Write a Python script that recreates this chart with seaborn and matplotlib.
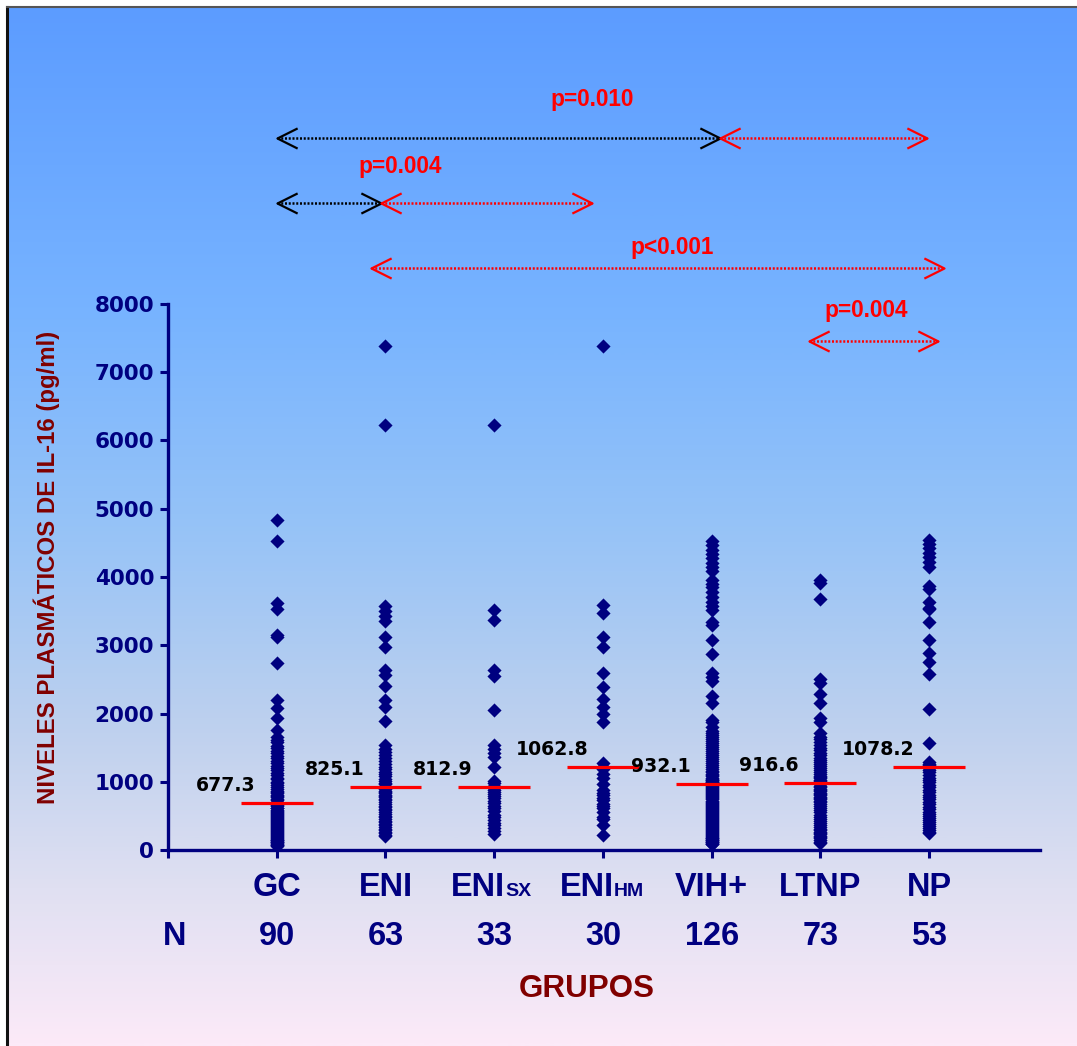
import numpy as np
import pandas as pd
import matplotlib
matplotlib.use("Agg")
import matplotlib.pyplot as plt
import seaborn as sns
from matplotlib.path import Path
from matplotlib.colors import LinearSegmentedColormap
from matplotlib.transforms import blended_transform_factory
from matplotlib import font_manager

# ---------------- data ----------------
groups = ["GC", "ENI", "ENIsx", "ENIhm", "VIH+", "LTNP", "NP"]
n_counts = ["90", "63", "33", "30", "126", "73", "53"]

gc = [4830, 4530, 3620, 3530, 3150, 3120, 2740, 2200, 2080, 1930, 1760,
      1650, 1610, 1580, 1530, 1500, 1450, 1420, 1380, 1350, 1300, 1280, 1230,
      1200, 1170, 1130, 1100, 1060, 1040, 1000, 980, 950, 920, 900, 870, 850,
      830, 810, 790, 770, 750, 730, 710, 695, 685,
      670, 660, 640, 620, 610, 590, 575, 560, 545, 530, 515, 500, 480, 470,
      455, 440, 425, 410, 395, 380, 365, 350, 335, 320, 305, 290, 280, 265,
      250, 235, 220, 205, 190, 180, 165, 150, 140, 130, 120, 110, 100, 90,
      80, 70, 60]
eni = [7390, 6220, 3570, 3500, 3430, 3360, 3120, 2980, 2640, 2560, 2400,
       2200, 2100, 1890,
       1540, 1480, 1430, 1390, 1350, 1300, 1260, 1220, 1190, 1150, 1110, 1080,
       1040, 1010, 980, 960, 930, 910,
       890, 870, 850, 830, 810, 790, 770, 750, 730, 700, 680, 650, 630, 600,
       580, 550, 530, 500, 480, 450, 430, 410, 380, 360, 340, 310, 290, 270,
       250, 220, 200]
eni_sx = [6220, 3520, 3370, 2640, 2550, 2050, 1540, 1480, 1420, 1360, 1220,
          1010, 980, 940, 910, 880, 850, 820, 790, 760, 720, 690, 650, 610,
          570, 520, 480, 440, 400, 360, 320, 280, 230]
eni_hm = [7390, 3590, 3470, 3120, 2970, 2590, 2390, 2210, 2100, 1990, 1880,
          1270, 1220, 1180, 1120, 1060, 960, 880, 840, 800, 760, 730, 680,
          640, 610, 560, 490, 450, 360, 220]
vih = [4530, 4470, 4400, 4340, 4280, 4210, 4150, 4090, 3960, 3900, 3850,
       3780, 3700, 3640, 3580, 3510, 3340, 3290, 3080, 2870, 2590, 2540, 2470,
       2250, 2150, 1900, 1870, 1800, 1750, 1720,
       1690, 1660, 1630, 1600, 1570, 1540, 1510, 1480, 1450, 1420, 1390, 1360,
       1330, 1300, 1270, 1240, 1210, 1190, 1160, 1140, 1120, 1100, 1080, 1060,
       1040, 1030, 1020, 1010, 1000, 990, 980, 970, 960,
       950, 935, 920, 905, 890, 875, 860, 845, 830, 815, 800, 785, 770, 755,
       740, 725, 710, 695, 680, 665, 650, 635, 620, 605, 590, 575, 560, 545,
       530, 515, 500, 485, 470, 455, 440, 425, 410, 395, 380, 365, 350, 335,
       320, 305, 290, 275, 260, 245, 230, 215, 200, 190, 180, 170, 160, 150,
       140, 130, 120, 110, 100, 95, 90]
ltnp = [3950, 3910, 3680, 2500, 2450, 2290, 2150, 1930, 1880, 1720,
        1660, 1620, 1580, 1540, 1500, 1460, 1420, 1390, 1350, 1320, 1290, 1260,
        1230, 1200, 1170, 1140, 1110, 1090, 1070, 1050, 1030, 1010, 1000, 990,
        985, 980,
        960, 940, 920, 900, 880, 860, 840, 820, 800, 780, 760, 740, 720, 700,
        670, 640, 610, 580, 550, 520, 490, 460, 430, 400, 370, 340, 310, 290,
        270, 250, 230, 210, 190, 170, 150, 120, 100]
np_grp = [4540, 4480, 4420, 4350, 4290, 4220, 4150, 3870, 3820, 3640, 3550,
          3530, 3340, 3080, 2880, 2760, 2580, 2070, 1570,
          1290, 1260, 1240, 1220, 1200, 1170, 1140, 1100, 1060, 1020, 990, 950,
          920, 880, 850, 810, 780, 740, 700, 670, 630, 600, 560, 530, 500, 470,
          440, 410, 380, 350, 320, 300, 270, 250]

median_lines = [690, 925, 923, 1216, 967, 982, 1216]
median_labels = ["677.3", "825.1", "812.9", "1062.8", "932.1", "916.6", "1078.2"]

# comparison arrows
arrow_x0 = [0.0, 4.08, 0.0, 0.96, 0.87, 4.90]
arrow_x1 = [4.08, 5.98, 0.96, 2.90, 6.14, 6.08]
arrow_y = [10430, 10430, 9480, 9480, 8530, 7460]
arrow_col = ["black", "red", "black", "red", "red", "red"]
p_texts = ["p=0.010", "p=0.004", "p<0.001", "p=0.004"]
p_x = [2.90, 1.14, 3.64, 5.42]
p_y = [10990, 10010, 8830, 7900]

series = [gc, eni, eni_sx, eni_hm, vih, ltnp, np_grp]
df = pd.DataFrame({
    "grupo": np.repeat(groups, [len(s) for s in series]),
    "valor": np.concatenate([np.asarray(s, float) for s in series]),
})

# ---------------- fonts ----------------
names = {f.name for f in font_manager.fontManager.ttflist}
if "Liberation Sans Narrow" in names:
    NARROW, narrow_scale = "Liberation Sans Narrow", 1.0
else:
    NARROW, narrow_scale = "Liberation Sans", 0.88
ARIAL = "Liberation Sans"
NAVY = "#000080"
DARKRED = "#800000"

# ---------------- figure ----------------
W, H = 1077, 1046
fig = plt.figure(figsize=(W / 100, H / 100), dpi=100)
fig.patch.set_facecolor("white")

bg = fig.add_axes([7 / W, 0, 1 - 7 / W, 1 - 7 / H], zorder=0)
cmap = LinearSegmentedColormap.from_list(
    "bg", [(0.0, "#5C9CFF"), (0.3, "#78B4FF"), (0.5, "#96C3F7"),
           (0.7, "#BFD1EE"), (0.85, "#E0E0F2"), (1.0, "#FCEAF8")])
grad = np.linspace(0, 1, 512).reshape(-1, 1)
bg.imshow(grad, aspect="auto", cmap=cmap, extent=[0, 1, 0, 1], origin="upper")
bg.set_xticks([]); bg.set_yticks([])
for s in ["right", "bottom"]:
    bg.spines[s].set_visible(False)
bg.spines["left"].set_linewidth(2.2)
bg.spines["top"].set_linewidth(1.5)
bg.spines["left"].set_color("#111111")
bg.spines["top"].set_color("#555555")

ax = fig.add_axes([168 / W, 1 - 850 / H, (1040 - 168) / W, (850 - 304) / H], zorder=2)
ax.patch.set_alpha(0)

sns.stripplot(data=df, x="grupo", y="valor", order=groups, jitter=False,
              marker="D", size=7.2, color=NAVY, linewidth=0, ax=ax, zorder=3)
for c in ax.collections:
    c.set_clip_on(False)

ax.set_xlim(-1, 7.02)
ax.set_ylim(0, 8000)
ax.set_xlabel("")
ax.set_ylabel("")
for s in ["top", "right"]:
    ax.spines[s].set_visible(False)
for s in ["left", "bottom"]:
    ax.spines[s].set_color(NAVY)
    ax.spines[s].set_linewidth(2.4)
ax.set_yticks(range(0, 8001, 1000))
ax.set_xticks(range(-1, 7))
ax.set_xticklabels([""] * 8)
ax.tick_params(axis="both", direction="out", length=6, width=2.2, colors=NAVY)
ax.tick_params(axis="y", pad=4)
for lab in ax.get_yticklabels():
    lab.set_fontfamily("DejaVu Sans")
    lab.set_fontweight("bold")
    lab.set_fontsize(15.5)
    lab.set_color(NAVY)

# median lines + labels
for i, (m, lab) in enumerate(zip(median_lines, median_labels)):
    ax.hlines(m, i - 0.33, i + 0.33, color="red", lw=2.3, zorder=4)
    ax.text(i - 0.47, m + 250, lab, ha="center", va="center",
            fontfamily="DejaVu Sans", fontweight="bold", fontsize=13.6,
            color="black", zorder=5)

# comparison arrows
left_head = Path([(2, 1), (0, 0), (2, -1)], [Path.MOVETO, Path.LINETO, Path.LINETO])
right_head = Path([(-2, 1), (0, 0), (-2, -1)], [Path.MOVETO, Path.LINETO, Path.LINETO])
for x0, x1, y, col in zip(arrow_x0, arrow_x1, arrow_y, arrow_col):
    ax.plot([x0, x1], [y, y], ls=(0, (0.8, 0.7)), lw=1.8, color=col,
            clip_on=False, zorder=4)
    ax.plot([x0], [y], marker=left_head, ms=29, mfc="none", mec=col, mew=1.6,
            clip_on=False, zorder=4)
    ax.plot([x1], [y], marker=right_head, ms=29, mfc="none", mec=col, mew=1.6,
            clip_on=False, zorder=4)
for t, x, y in zip(p_texts, p_x, p_y):
    ax.text(x, y, t, ha="center", va="center", color="red", fontweight="bold",
            fontfamily=NARROW, fontsize=18.5 * narrow_scale, clip_on=False)

# category labels
trans = blended_transform_factory(ax.transData, fig.transFigure)
cat_size = 26.6 * narrow_scale
base_y = 1 - 896 / H
for i, g in enumerate(groups):
    if g in ("ENIsx", "ENIhm"):
        ax.text(i + 0.10, base_y, "ENI", transform=trans, ha="right", va="baseline",
                fontfamily=NARROW, fontweight="bold", fontsize=cat_size, color=NAVY)
        ax.text(i + 0.10, base_y, g[3:].upper(), transform=trans, ha="left",
                va="baseline", fontfamily=NARROW, fontweight="bold",
                fontsize=cat_size * 0.6, color=NAVY)
    else:
        ax.text(i, base_y, g, transform=trans, ha="center", va="baseline",
                fontfamily=NARROW, fontweight="bold", fontsize=cat_size, color=NAVY)
n_y = 1 - 945 / H
ax.text(-0.94, n_y, "N", transform=trans, ha="center", va="baseline",
        fontfamily=NARROW, fontweight="bold", fontsize=cat_size, color=NAVY)
for i, n in enumerate(n_counts):
    ax.text(i, n_y, n, transform=trans, ha="center", va="baseline",
            fontfamily=NARROW, fontweight="bold", fontsize=cat_size, color=NAVY)

fig.text(587 / W, 1 - 989 / H, "GRUPOS", ha="center", va="center",
         fontfamily=ARIAL, fontweight="bold", fontsize=22.6, color=DARKRED)
fig.text(47 / W, 1 - 567 / H, "NIVELES PLASMÁTICOS DE IL-16 (pg/ml)",
         rotation=90, ha="center", va="center", fontfamily=ARIAL,
         fontweight="bold", fontsize=17.3, color=DARKRED)

fig.savefig("out.png", dpi=100, facecolor=fig.get_facecolor())
